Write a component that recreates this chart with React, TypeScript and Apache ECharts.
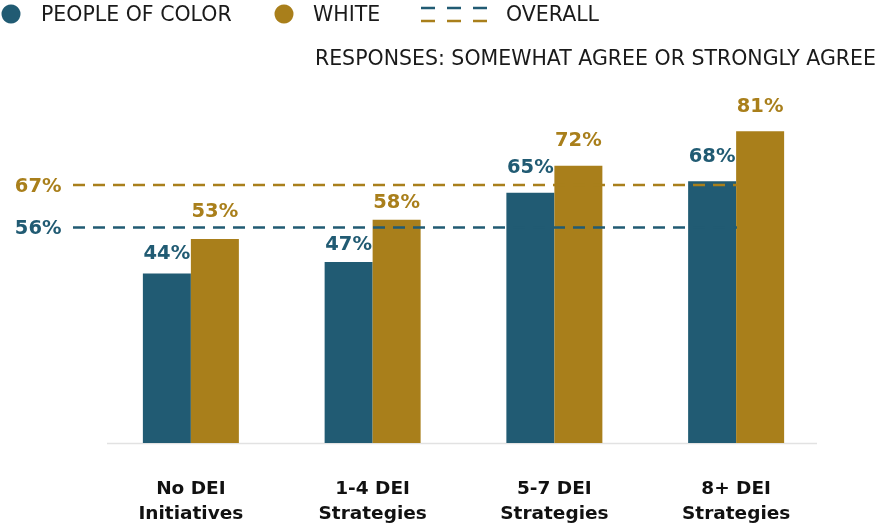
import React, { useEffect, useRef } from "react";
import * as echarts from "echarts";

const categories = ["No DEI\nInitiatives", "1-4 DEI\nStrategies", "5-7 DEI\nStrategies", "8+ DEI\nStrategies"];
const peopleOfColor = [44, 47, 65, 68];
const white = [53, 58, 72, 81];
const overallPOC = 56;
const overallWhite = 67;

// label gap above each bar (style only)
const pocLabelGap = [11.5, 8.5, 16.5, 15.5];
const whiteLabelGap = [18.5, 8.5, 16.5, 15.5];

const TEAL = "#215b73";
const GOLD = "#a97f1b";
const FONT = "'DejaVu Sans', sans-serif";

export default function App() {
  const ref = useRef<HTMLDivElement>(null);
  useEffect(() => {
    const chart = echarts.init(ref.current!, undefined, { renderer: "svg" });
    const labelStyle = (color: string) => ({
      show: true,
      position: "top" as const,
      distance: 8,
      color,
      fontFamily: FONT,
      fontWeight: "bold",
      fontSize: 19.5,
      formatter: "{c}%",
    });
    const withGaps = (vals: number[], gaps: number[]) =>
      vals.map((v, i) => ({ value: v, label: { distance: gaps[i] } }));
    const overallLine = (val: number, color: string) => ({
      type: "line",
      xAxisIndex: 1,
      yAxisIndex: 1,
      data: [
        { value: [0, val], label: { show: true, position: "left", distance: 11, formatter: `${val}%`, color, fontFamily: FONT, fontWeight: "bold", fontSize: 19.5 } },
        { value: [1, val] },
      ],
      symbol: "circle",
      symbolSize: 1,
      showSymbol: true,
      itemStyle: { color: "rgba(0,0,0,0)" },
      lineStyle: { color, width: 2.5, type: [12, 8] },
      z: 5,
      silent: true,
    });
    chart.setOption({
      animation: false,
      textStyle: { fontFamily: FONT },
      grid: [
        { left: 100, right: 49, top: 58, bottom: 83 },
        { left: 73, right: 139, top: 58, bottom: 83 },
      ],
      xAxis: [
        {
          type: "category",
          gridIndex: 0,
          data: categories,
          axisLine: { show: false },
          axisTick: { show: false },
          axisLabel: { margin: 32, color: "#111", fontFamily: FONT, fontWeight: "bold", fontSize: 18.5, lineHeight: 25 },
        },
        { type: "value", gridIndex: 1, min: 0, max: 1, show: false },
      ],
      yAxis: [
        { type: "value", gridIndex: 0, min: 0, max: 100, show: false },
        { type: "value", gridIndex: 1, min: 0, max: 100, show: false },
      ],
      series: [
        {
          type: "bar",
          name: "PEOPLE OF COLOR",
          data: withGaps(peopleOfColor, pocLabelGap),
          barWidth: 48,
          barGap: "0%",
          itemStyle: { color: TEAL },
          label: labelStyle(TEAL),
        },
        {
          type: "bar",
          name: "WHITE",
          data: withGaps(white, whiteLabelGap),
          barWidth: 48,
          barGap: "0%",
          itemStyle: { color: GOLD },
          label: labelStyle(GOLD),
        },
        overallLine(overallPOC, TEAL),
        overallLine(overallWhite, GOLD),
      ],
      graphic: [
        { type: "line", shape: { x1: 107, y1: 443.5, x2: 817, y2: 443.5 }, style: { stroke: "#e2e2e2", lineWidth: 1.5 }, z: 1 },
        { type: "circle", shape: { cx: 11, cy: 14, r: 9.5 }, style: { fill: TEAL } },
        { type: "text", x: 41, y: 14, style: { text: "PEOPLE OF COLOR", fill: "#1a1a1a", font: `20.5px ${FONT}`, verticalAlign: "middle" } },
        { type: "circle", shape: { cx: 284, cy: 14, r: 9.5 }, style: { fill: GOLD } },
        { type: "text", x: 313, y: 14, style: { text: "WHITE", fill: "#1a1a1a", font: `20.5px ${FONT}`, verticalAlign: "middle" } },
        { type: "line", shape: { x1: 421, y1: 8, x2: 487, y2: 8 }, style: { stroke: TEAL, lineWidth: 2.5, lineDash: [14, 12] } },
        { type: "line", shape: { x1: 421, y1: 21, x2: 487, y2: 21 }, style: { stroke: GOLD, lineWidth: 2.5, lineDash: [14, 12] } },
        { type: "text", x: 506, y: 14, style: { text: "OVERALL", fill: "#1a1a1a", font: `20.5px ${FONT}`, verticalAlign: "middle" } },
        { type: "text", x: 876, y: 58, style: { text: "RESPONSES: SOMEWHAT AGREE OR STRONGLY AGREE", fill: "#1a1a1a", font: `20.5px ${FONT}`, align: "right", verticalAlign: "middle" } },
      ],
    });
    return () => chart.dispose();
  }, []);
  return <div ref={ref} style={{ position: "fixed", left: 0, top: 0, width: 876, height: 526 }} />;
}
